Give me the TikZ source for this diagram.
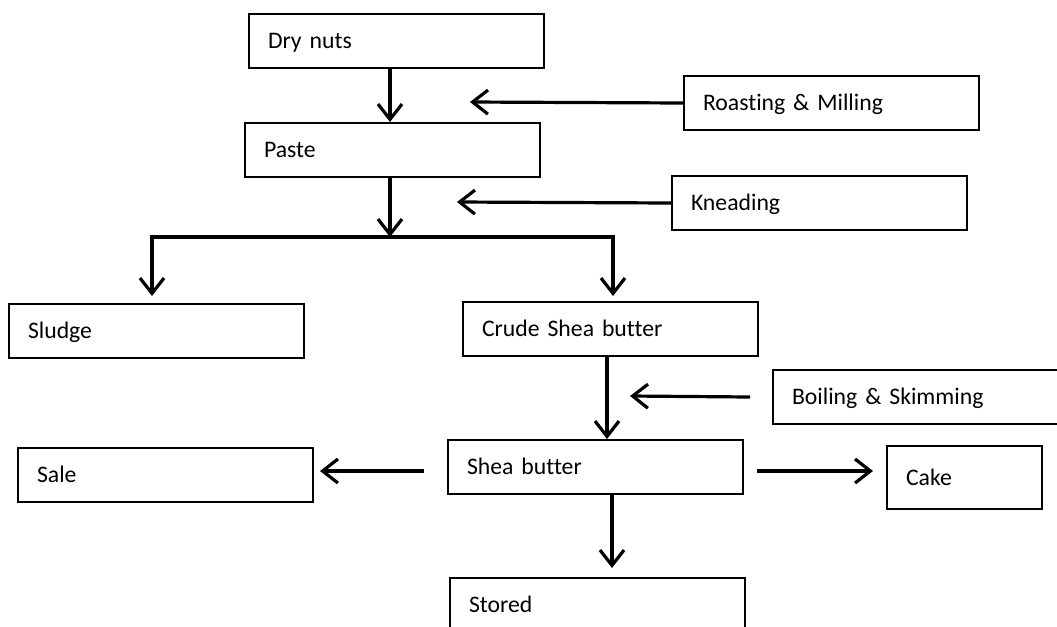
\documentclass[tikz,border=0pt]{standalone}
\usepackage{fontspec}
\setmainfont{Carlito}[Ligatures=NoCommon]
\usetikzlibrary{arrows.meta}
\tikzset{
  bx/.style={draw, line width=1.5pt, rectangle, anchor=north west,
    inner xsep=14.25pt, inner ysep=0pt, minimum height=40.5pt,
    text height=11.4pt, text depth=0pt, align=left, text width=192.75pt,
    font=\fontsize{17.8pt}{21pt}\selectfont},
  arr/.style={line width=2.4pt, -{Straight Barb[length=11.5pt,width=18pt]}},
}
\begin{document}
\begin{tikzpicture}[x=0.75pt,y=-0.75pt]
\useasboundingbox (0,0) rectangle (1057,626);
\clip (0,0) rectangle (1057,626);
\fill[white] (0,0) rectangle (1057,626);
% boxes
\node[bx] (dry) at (248,13) {Dry nuts};
\node[bx] (paste) at (244,122) {Paste};
\node[bx] (roast) at (683,75) {Roasting \& Milling};
\node[bx] (knead) at (671,175) {Kneading};
\node[bx] (sludge) at (8,303) {Sludge};
\node[bx] (crude) at (462,301) {Crude Shea butter};
\node[bx] (boil) at (772,369) {Boiling \& Skimming};
\node[bx] (shea) at (447,439) {Shea butter};
\node[bx] (sale) at (17,447) {Sale};
\node[bx, text width=87.75pt, minimum height=47.5pt] (cake) at (886,445) {Cake};
\node[bx] (stored) at (449,577) {Stored};
% connector end points
\coordinate (c1) at (390,122);
\coordinate (rt) at (470,102);
\coordinate (kt) at (457,202);
\coordinate (split) at (390,237);
\coordinate (slt) at (152,296);
\coordinate (crt) at (613,296);
\coordinate (cs) at (607,439);
\coordinate (bt) at (630,396);
\coordinate (ss) at (424,471);
\coordinate (st) at (320,471);
\coordinate (ks) at (757,471);
\coordinate (kt2) at (873,471);
\coordinate (sto) at (612,568);
% connectors
\draw[arr] (dry.south -| c1) -- (c1);
\draw[arr] (roast.west) -- (rt);
\draw[arr] (knead.west) -- (kt);
\draw[arr] (paste.south -| split) -- (split);
\draw[arr] (split) -| (slt);
\draw[arr] (split) -| (crt);
\draw[arr] (crude.south -| cs) -- (cs);
\draw[arr] ([xshift=-16.5pt]boil.west) -- (bt);
\draw[arr] (ss) -- (st);
\draw[arr] (ks) -- (kt2);
\draw[arr] (shea.south -| sto) -- (sto);
\end{tikzpicture}
\end{document}
